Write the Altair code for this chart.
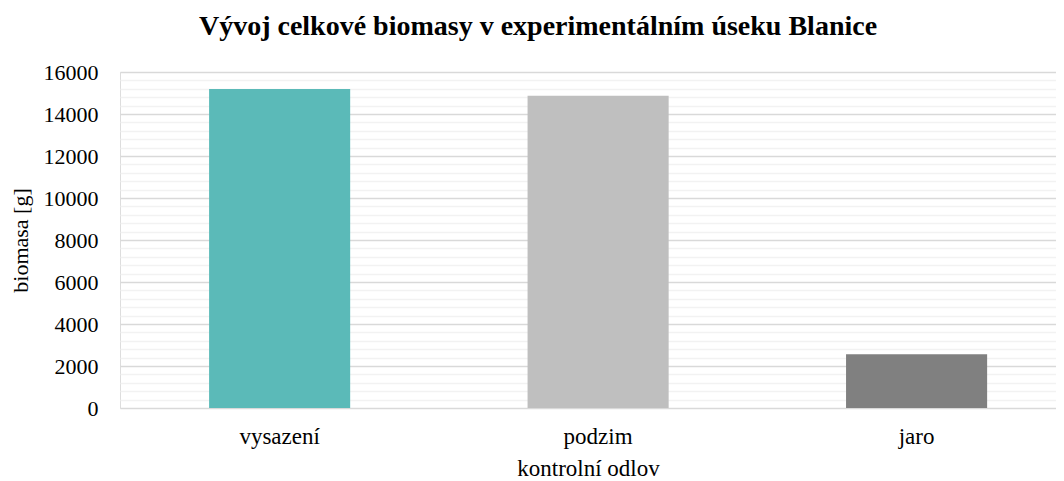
import altair as alt
import pandas as pd

categories = ["vysazení", "podzim", "jaro"]
biomass = [15190, 14870, 2560]
bar_colors = ["#5BBAB8", "#BFBFBF", "#808080"]
tick_values = list(range(0, 16001, 400))

df = pd.DataFrame({"odlov": categories, "biomasa": biomass})

FONT = "Liberation Serif"

bars = alt.Chart(df).mark_bar().encode(
    x=alt.X(
        "odlov:N",
        sort=categories,
        scale=alt.Scale(paddingInner=0.557, paddingOuter=0.248, align=0.564),
        axis=alt.Axis(
            title="kontrolní odlov",
            labelAngle=0,
            labelFont=FONT,
            labelFontSize=23,
            labelColor="#000000",
            labelPadding=35,
            labelBaseline="alphabetic",
            ticks=False,
            tickSize=0,
            domain=False,
            grid=False,
            titleFont=FONT,
            titleFontSize=23,
            titleFontWeight="normal",
            titleColor="#000000",
            titleBaseline="alphabetic",
            titleY=67,
        ),
    ),
    y=alt.Y(
        "biomasa:Q",
        scale=alt.Scale(domain=[0, 16000], nice=False),
        axis=alt.Axis(
            title="biomasa [g]",
            values=tick_values,
            format="d",
            labelExpr="datum.value % 2000 === 0 ? datum.label : ''",
            labelFont=FONT,
            labelFontSize=22,
            labelColor="#000000",
            labelPadding=22,
            ticks=False,
            tickSize=0,
            domain=False,
            grid=True,
            gridColor={
                "condition": {"test": "datum.value % 2000 === 0", "value": "#D9D9D9"},
                "value": "#F2F2F2",
            },
            gridWidth=1.3,
            titleFont=FONT,
            titleFontSize=22,
            titleFontWeight="normal",
            titleColor="#000000",
            titleBaseline="middle",
            titleX=-100,
            titleY=168,
            titleAngle=270,
        ),
    ),
    color=alt.Color(
        "odlov:N",
        scale=alt.Scale(domain=categories, range=bar_colors),
        legend=None,
    ),
)

chart = bars.properties(
    width=936,
    height=336,
    autosize=alt.AutoSizeParams(type="none"),
    padding={"left": 112, "top": 64, "right": 0, "bottom": 73},
    title=alt.TitleParams(
        text="Vývoj celkové biomasy v experimentálním úseku Blanice",
        font=FONT,
        fontSize=28,
        fontWeight="bold",
        color="#000000",
        anchor="middle",
        dx=-50,
        dy=12,
        baseline="alphabetic",
        offset=10,
    ),
).configure_view(stroke=None).configure(background="white")

chart.save("out.html", embed_options={"renderer": "svg", "actions": False})
